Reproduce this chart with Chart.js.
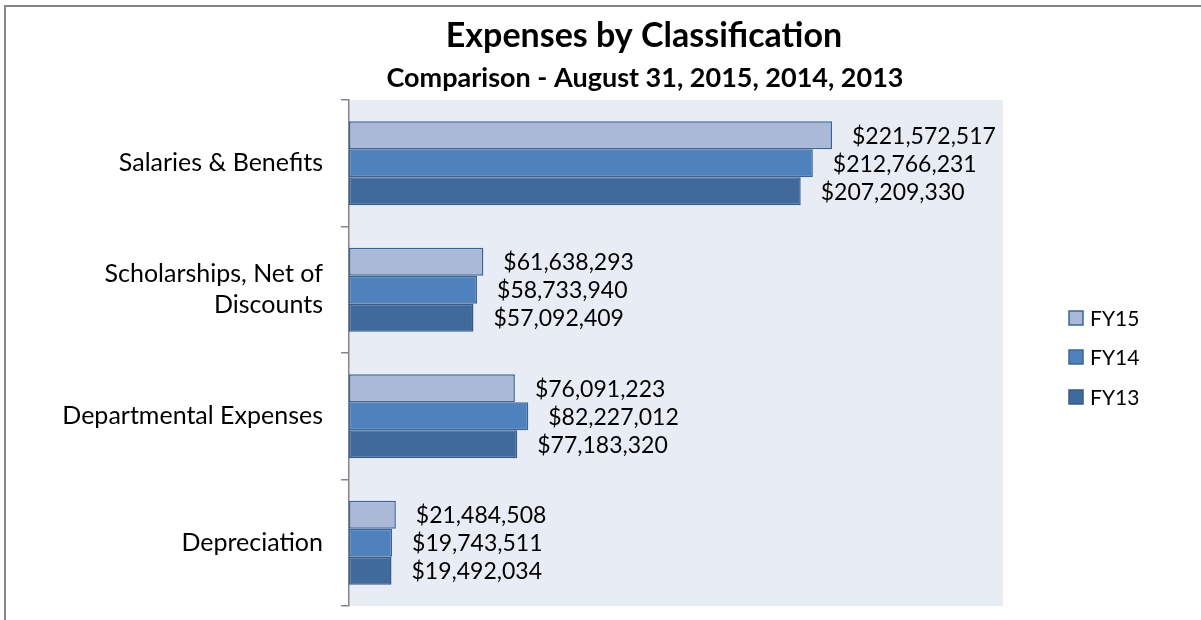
<!DOCTYPE html>
<html>
<head>
<meta charset="utf-8">
<script src="https://cdn.jsdelivr.net/npm/chart.js@4"></script>
<style>
  html, body { margin: 0; padding: 0; background: #fff; }
  #wrap { width: 1201px; height: 620px; position: relative; }
</style>
</head>
<body>
<div id="wrap"><canvas id="chart" width="1201" height="620"></canvas></div>
<script>
const categories = ["Salaries & Benefits", ["Scholarships, Net of", "Discounts"], "Departmental Expenses", "Depreciation"];
const seriesNames = ["FY15", "FY14", "FY13"];
const fy15 = [221572517, 61638293, 76091223, 21484508];
const fy14 = [212766231, 58733940, 82227012, 19743511];
const fy13 = [207209330, 57092409, 77183320, 19492034];
const xMax = 300000000;

const fills = ["#aab9d7", "#4f81bd", "#406a9b"];
const edges = ["#3b6496", "#3b6496", "#365c8a"];
const FONT = "Lato, 'Open Sans', sans-serif";

const fmt = v => "$" + v.toLocaleString("en-US");

// plot background, frame, data labels, titles and legend
const decor = {
    id: "decor",
    beforeDraw(chart) {
        const { ctx, chartArea: a } = chart;
        ctx.save();
        ctx.fillStyle = "#e8ecf4";
        ctx.fillRect(a.left, a.top, a.right - a.left, a.bottom - a.top);
        ctx.strokeStyle = "#868686";
        ctx.lineWidth = 2;
        ctx.strokeRect(5, 6, 1210, 640);
        ctx.restore();
    },
    afterDatasetsDraw(chart) {
        const ctx = chart.ctx;
        ctx.save();
        ctx.font = "23px " + FONT;
        ctx.fillStyle = "#000";
        ctx.textAlign = "left";
        ctx.textBaseline = "middle";
        chart.data.datasets.forEach((ds, i) => {
            chart.getDatasetMeta(i).data.forEach((bar, j) => {
                ctx.fillText(fmt(ds.data[j]), bar.x + 20, bar.y + 1);
            });
        });

        ctx.textAlign = "center";
        ctx.font = "bold 34px " + FONT;
        ctx.fillText("Expenses by Classification", 644, 36);
        ctx.font = "bold 27px " + FONT;
        ctx.fillText("Comparison - August 31, 2015, 2014, 2013", 645, 78);

        ctx.textAlign = "left";
        ctx.font = "21px " + FONT;
        const ys = [318, 357, 397];
        chart.data.datasets.forEach((ds, i) => {
            ctx.fillStyle = ds.backgroundColor;
            ctx.fillRect(1069, ys[i] - 7, 14, 14);
            ctx.strokeStyle = ds.borderColor;
            ctx.lineWidth = 1.5;
            ctx.strokeRect(1069, ys[i] - 7, 14, 14);
            ctx.fillStyle = "#000";
            ctx.fillText(ds.label, 1090, ys[i] + 1);
        });
        ctx.restore();
    }
};

new Chart(document.getElementById("chart"), {
    type: "bar",
    data: {
        labels: categories,
        datasets: [fy15, fy14, fy13].map((d, i) => ({
            label: seriesNames[i],
            data: d,
            backgroundColor: fills[i],
            borderColor: edges[i],
            borderWidth: 1.5,
            borderSkipped: false,
            categoryPercentage: 0.664,
            barPercentage: 1
        }))
    },
    options: {
        indexAxis: "y",
        responsive: false,
        animation: false,
        layout: { padding: { left: 0, top: 100, right: 198, bottom: 14 } },
        plugins: {
            legend: { display: false },
            tooltip: { enabled: false }
        },
        scales: {
            x: {
                display: false,
                min: 0,
                max: xMax
            },
            y: {
                afterFit(scale) {
                    scale.width = 349;
                    scale.paddingTop = 0;
                    scale.paddingBottom = 0;
                },
                border: { display: true, color: "#868686", width: 1.5 },
                grid: {
                    drawOnChartArea: false,
                    drawTicks: true,
                    tickLength: 8,
                    color: "#868686",
                    lineWidth: 1.5
                },
                ticks: {
                    color: "#000",
                    padding: 18,
                    font: { family: FONT, size: 25, lineHeight: 1.24 }
                }
            }
        }
    },
    plugins: [decor]
});
</script>
</body>
</html>
